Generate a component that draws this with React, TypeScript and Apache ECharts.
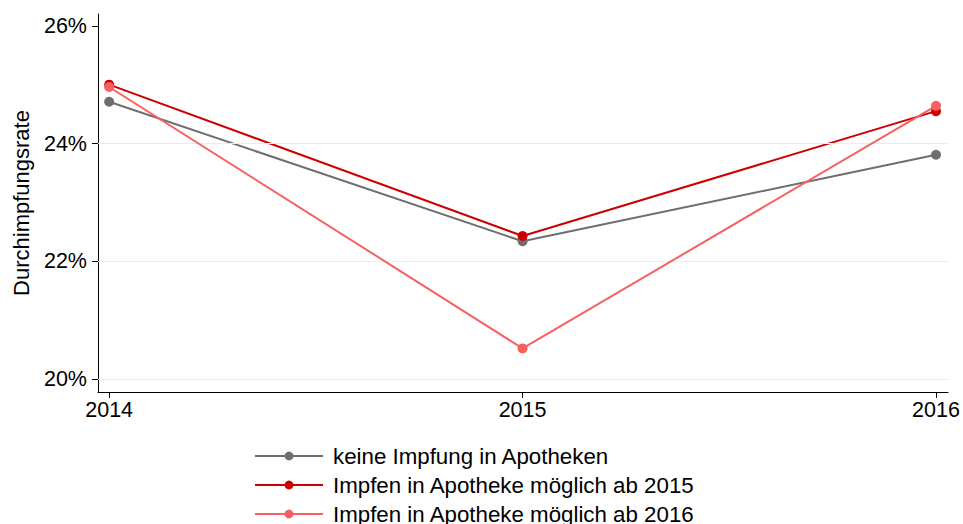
import React, { useEffect, useRef } from "react";
import * as echarts from "echarts";

const years = [2014, 2015, 2016];
const yTicks = [20, 22, 24, 26];
const gridTicks = [20, 22, 24];
const seriesNames = [
  "keine Impfung in Apotheken",
  "Impfen in Apotheke möglich ab 2015",
  "Impfen in Apotheke möglich ab 2016",
];
const keineImpfung = [24.71, 22.34, 23.81];
const ab2015 = [25.0, 22.43, 24.55];
const ab2016 = [24.96, 20.52, 24.64];
const colors = ["#6e6e6e", "#cc0000", "#f86060"];

const FONT = "Liberation Sans, Arial, sans-serif";

export default function App() {
  const ref = useRef<HTMLDivElement>(null);
  useEffect(() => {
    const chart = echarts.init(ref.current!, null, { renderer: "svg" });
    const values = [keineImpfung, ab2015, ab2016];
    chart.setOption({
      animation: false,
      textStyle: { fontFamily: FONT },
      grid: { left: 98, right: 15, top: 14, bottom: 132, containLabel: false },
      legend: {
        orient: "vertical",
        left: 254,
        top: 445,
        height: 100,
        itemWidth: 68,
        itemHeight: 11,
        itemGap: 7,
        padding: 0,
        data: seriesNames,
        textStyle: {
          color: "#000",
          fontSize: 22.3,
          lineHeight: 20,
          padding: [0, 0, 0, 5],
          fontFamily: FONT,
        },
      },
      xAxis: {
        type: "value",
        min: 2013.973,
        max: 2016.029,
        axisLine: { show: true, lineStyle: { color: "#000", width: 1 } },
        axisTick: { show: true, customValues: years, length: 6, lineStyle: { color: "#000" } },
        axisLabel: {
          customValues: years,
          color: "#000",
          fontSize: 21.5,
          margin: 7,
          formatter: (v: number) => String(v),
        },
        splitLine: { show: false },
      },
      yAxis: {
        type: "value",
        min: 19.78,
        max: 26.2,
        name: "Durchimpfungsrate",
        nameLocation: "middle",
        nameGap: 66,
        nameTextStyle: { color: "#000", fontSize: 22 },
        axisLine: { show: true, lineStyle: { color: "#000", width: 1 } },
        axisTick: { show: true, customValues: yTicks, length: 6, lineStyle: { color: "#000" } },
        axisLabel: {
          customValues: yTicks,
          color: "#000",
          fontSize: 21.5,
          margin: 11,
          formatter: (v: number) => v + "%",
        },
        splitLine: { show: false },
      },
      series: [
        ...seriesNames.map((name, i) => ({
          name,
          type: "line",
          data: years.map((y, j) => [y, values[i][j]]),
          symbol: "circle",
          symbolSize: 10,
          lineStyle: { color: colors[i], width: 2 },
          itemStyle: { color: colors[i] },
          z: 3 + i,
        })),
        {
          type: "line",
          data: [],
          silent: true,
          markLine: {
            silent: true,
            symbol: "none",
            label: { show: false },
            lineStyle: { color: "#ebebeb", width: 1, type: "solid" },
            data: gridTicks.map((t) => ({ yAxis: t })),
          },
          z: 1,
        },
      ],
    });
    return () => chart.dispose();
  }, []);
  return (
    <div
      ref={ref}
      style={{ position: "fixed", left: 0, top: 0, width: 963, height: 524, background: "#fff" }}
    />
  );
}
